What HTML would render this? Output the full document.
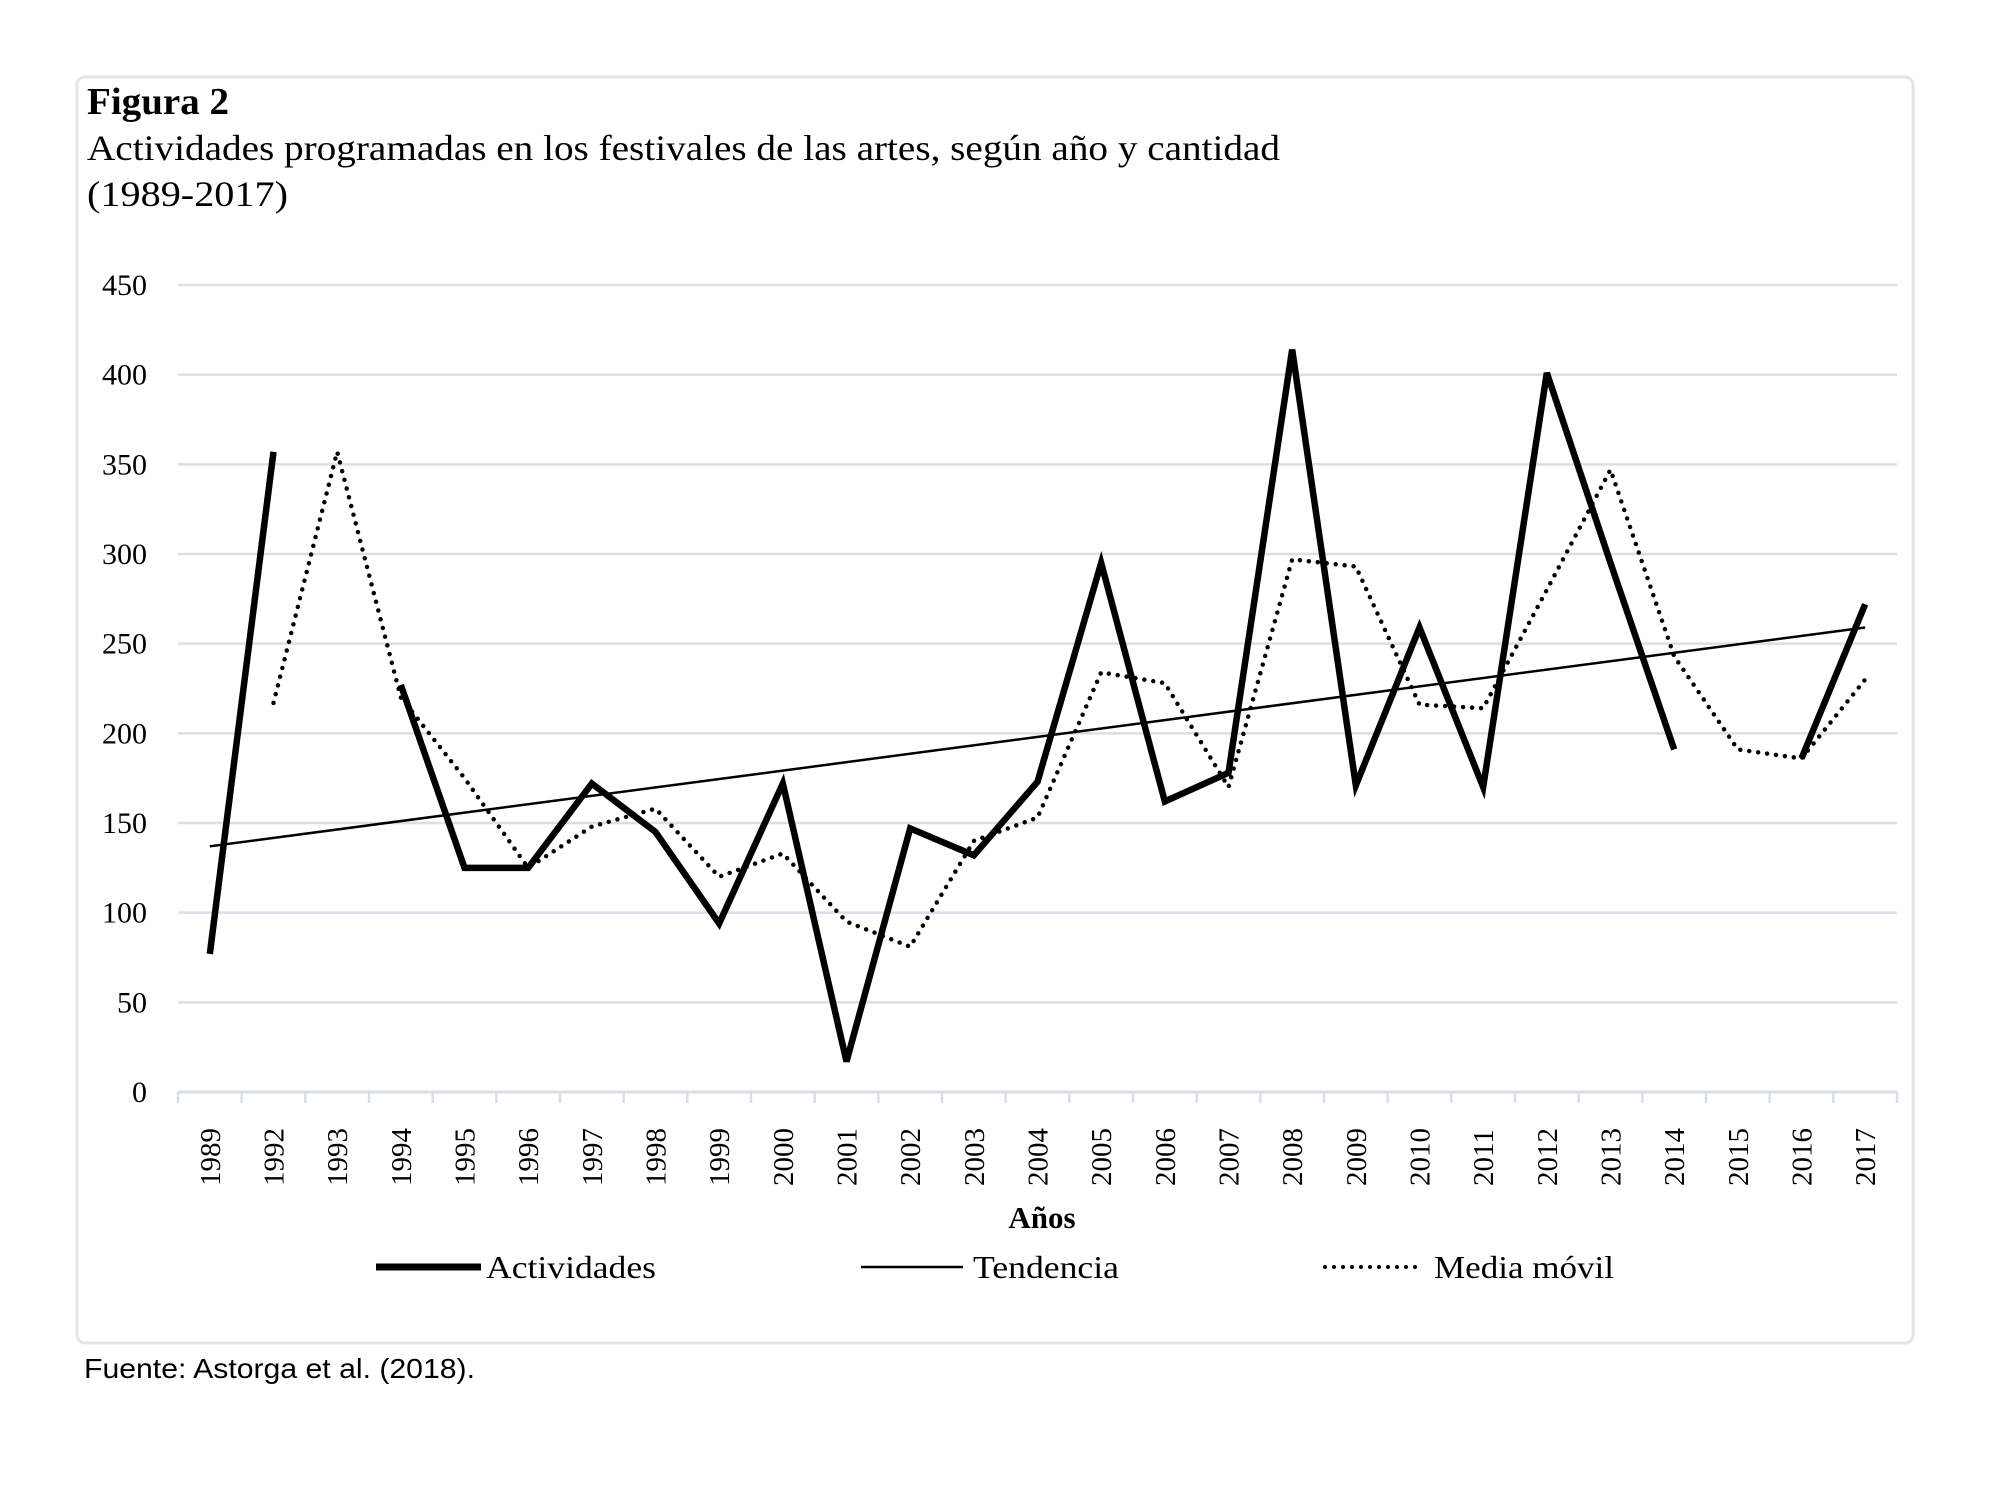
<!DOCTYPE html>
<html><head><meta charset="utf-8">
<style>
html,body{margin:0;padding:0;background:#fff;width:1989px;height:1487px;overflow:hidden}
svg{display:block}
</style></head>
<body>
<svg id="chart" width="1989" height="1487" viewBox="0 0 1989 1487" xmlns="http://www.w3.org/2000/svg">
<rect x="77" y="77" width="1836" height="1266" rx="8" fill="#fff" stroke="#e1e5ec" stroke-width="3"/>
<text x="87" y="114" font-family="Liberation Serif, serif" font-weight="bold" font-size="38" textLength="142" lengthAdjust="spacingAndGlyphs">Figura 2</text>
<text x="87" y="160" font-family="Liberation Serif, serif" font-size="36" textLength="1193" lengthAdjust="spacingAndGlyphs">Actividades programadas en los festivales de las artes, según año y cantidad</text>
<text x="87" y="206" font-family="Liberation Serif, serif" font-size="36" textLength="201" lengthAdjust="spacingAndGlyphs">(1989-2017)</text>
<g id="grid"></g>
<g id="xaxis"></g>
<g id="series"></g>
<text x="1042" y="1228" text-anchor="middle" font-family="Liberation Serif, serif" font-weight="bold" font-size="31">Años</text>
<g>
<g>
<line x1="376" y1="1267" x2="481" y2="1267" stroke="#000" stroke-width="7"/>
<text x="486" y="1278" font-family="Liberation Serif, serif" font-size="32" textLength="170" lengthAdjust="spacingAndGlyphs">Actividades</text></g>
<g>
<line x1="861" y1="1267" x2="963" y2="1267" stroke="#000" stroke-width="2.5"/>
<text x="973" y="1278" font-family="Liberation Serif, serif" font-size="32" textLength="146" lengthAdjust="spacingAndGlyphs">Tendencia</text></g>
<g>
<line x1="1325" y1="1267" x2="1418" y2="1267" stroke="#000" stroke-width="4" stroke-dasharray="0 9" stroke-linecap="round"/>
<text x="1434" y="1278" font-family="Liberation Serif, serif" font-size="32" textLength="180" lengthAdjust="spacingAndGlyphs">Media móvil</text></g>
</g>
<text x="84" y="1378" font-family="Liberation Sans, sans-serif" font-size="28" textLength="391" lengthAdjust="spacingAndGlyphs">Fuente: Astorga et al. (2018).</text>
</svg>
<script>
const categories=["1989","1992","1993","1994","1995","1996","1997","1998","1999","2000","2001","2002","2003","2004","2005","2006","2007","2008","2009","2010","2011","2012","2013","2014","2015","2016","2017"];
const actividades=[77,357,null,227,125,125,172,145,94,172,17,147,132,173,295,162,178,414,171,259,170,401,295,191,null,186,272];
const mediaMovil=[null,217,357,220,175,125,148,158,120,133,95,81,140,153,234,228,170,297,293,216,214,280,347,243,191,186,230];
const tendencia=[137,259];
const yTicks=[0,50,100,150,200,250,300,350,400,450];

const NS="http://www.w3.org/2000/svg";
const X0=178,X1=1897,Y0=1092,Y450=285;
const bw=(X1-X0)/categories.length;
function xs(i){return X0+bw*(i+0.5);}
function ys(v){return Y0-(v/450)*(Y0-Y450);}
function mk(tag,attrs,parent){const e=document.createElementNS(NS,tag);for(const k in attrs)e.setAttribute(k,attrs[k]);parent.appendChild(e);return e;}

const grid=document.getElementById('grid');
yTicks.forEach(t=>{
  if(t>0){const l=mk('line',{x1:X0,x2:X1,y1:ys(t),y2:ys(t),stroke:'#d9dee7','stroke-width':2.5},grid);
  
  }
  const tx=mk('text',{x:147,y:ys(t)+10,'text-anchor':'end','font-family':'Liberation Serif, serif','font-size':30},grid);
  tx.textContent=t;
  
  
});
const xa=document.getElementById('xaxis');
const ax=mk('line',{x1:X0,x2:X1,y1:Y0,y2:Y0,stroke:'#d9dee7','stroke-width':3},xa);


for(let i=0;i<=categories.length;i++){
  const tk=mk('line',{x1:X0+bw*i,x2:X0+bw*i,y1:Y0,y2:Y0+11,stroke:'#d9dee7','stroke-width':2.5},xa);
  
  
}
categories.forEach((c,i)=>{
  const x=xs(i)+10,y=1186;
  const t=mk('text',{x:x,y:y,transform:`rotate(-90 ${x} ${y})`,'font-family':'Liberation Serif, serif','font-size':29},xa);
  t.textContent=c;
  
  
});

const sg=document.getElementById('series');
function segs(arr){const out=[];let cur=[];arr.forEach((v,i)=>{if(v==null){if(cur.length)out.push(cur);cur=[];}else cur.push([xs(i),ys(v)]);});if(cur.length)out.push(cur);return out;}
const tr=mk('line',{x1:xs(0),y1:ys(tendencia[0]),x2:xs(categories.length-1),y2:ys(tendencia[1]),stroke:'#000','stroke-width':2.5},sg);


segs(mediaMovil).forEach(s=>{
  const p=mk('polyline',{points:s.map(q=>q.join(',')).join(' '),fill:'none',stroke:'#000','stroke-width':4.5,'stroke-dasharray':'0 9','stroke-linecap':'round'},sg);
  
  
});
segs(actividades).forEach(s=>{
  const p=mk('polyline',{points:s.map(q=>q.join(',')).join(' '),fill:'none',stroke:'#000','stroke-width':6.5,'stroke-linejoin':'miter'},sg);
  
  
});
</script>
</body></html>
